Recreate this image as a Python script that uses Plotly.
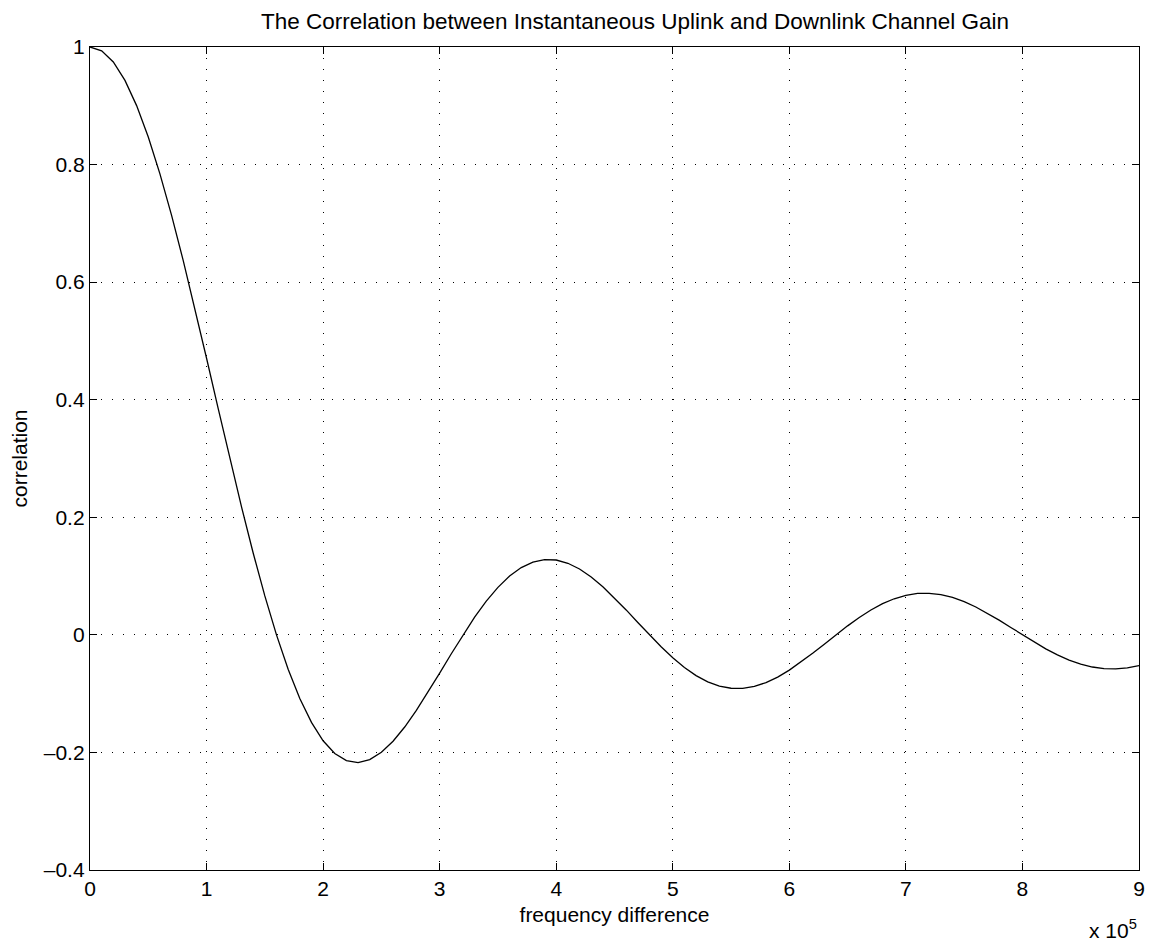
import plotly.graph_objects as go

# frequency difference samples (Hz), 1e4 spacing
freq_hz = [i * 1e4 for i in range(91)]

# correlation values
correlation = [
    1.0000, 0.9936, 0.9745, 0.9432, 0.9003, 0.8469, 0.7842, 0.7136, 0.6366, 0.5550,
    0.4705, 0.3850, 0.3001, 0.2177, 0.1392, 0.0662, 0.0000, -0.0584, -0.1083, -0.1489,
    -0.1801, -0.2017, -0.2139, -0.2172, -0.2122, -0.1998, -0.1810, -0.1568, -0.1286, -0.0976,
    -0.0650, -0.0321, 0.0000, 0.0301, 0.0573, 0.0808, 0.1000, 0.1145, 0.1238, 0.1281,
    0.1273, 0.1218, 0.1120, 0.0985, 0.0818, 0.0629, 0.0424, 0.0211, 0.0000, -0.0203,
    -0.0390, -0.0555, -0.0693, -0.0799, -0.0871, -0.0908, -0.0909, -0.0876, -0.0811, -0.0718,
    -0.0600, -0.0464, -0.0314, -0.0158, 0.0000, 0.0153, 0.0295, 0.0422, 0.0530, 0.0614,
    0.0672, 0.0704, 0.0707, 0.0684, 0.0636, 0.0565, 0.0474, 0.0367, 0.0250, 0.0126,
    0.0000, -0.0123, -0.0238, -0.0341, -0.0429, -0.0498, -0.0547, -0.0574, -0.0579, -0.0561,
    -0.0523,
]

x_tick_vals = [i * 1e5 for i in range(10)]
x_tick_text = [str(i) for i in range(10)]
y_tick_vals = [-0.4, -0.2, 0, 0.2, 0.4, 0.6, 0.8, 1.0]
y_tick_text = ["\u20130.4", "\u20130.2", "0", "0.2", "0.4", "0.6", "0.8", "1"]

FONT = "Liberation Sans, Arial, Helvetica, sans-serif"
FS = 21

fig = go.Figure()
fig.add_trace(go.Scatter(
    x=freq_hz, y=correlation, mode="lines",
    line=dict(color="black", width=1.3),
    showlegend=False,
))

axis_common = dict(
    showline=True, linecolor="black", linewidth=1.3, mirror="ticks",
    ticks="inside", ticklen=7, tickwidth=1, tickcolor="black",
    showgrid=True, gridcolor="black", gridwidth=1, griddash="1px,10px",
    zeroline=False,
    tickfont=dict(family=FONT, size=FS, color="black"),
)

fig.update_xaxes(
    range=[0, 9e5], tickvals=x_tick_vals, ticktext=x_tick_text,
    title=dict(text="frequency difference", font=dict(family=FONT, size=FS, color="black"), standoff=7),
    **axis_common,
)
fig.update_yaxes(
    range=[-0.4, 1.0], tickvals=y_tick_vals, ticktext=y_tick_text,
    title=dict(text="correlation", font=dict(family=FONT, size=FS, color="black"), standoff=10),
    **axis_common,
)

fig.add_annotation(
    text="x 10<sup>5</sup>", xref="paper", yref="paper", x=1.0, y=0, xanchor="right", yanchor="top",
    yshift=-44, showarrow=False, font=dict(family=FONT, size=FS, color="black"),
)

fig.update_layout(
    width=1145, height=939,
    margin=dict(l=82, r=14, t=39, b=77, autoexpand=False),
    paper_bgcolor="white", plot_bgcolor="white",
    title=dict(text="The Correlation between Instantaneous Uplink and Downlink Channel Gain",
               x=0.5196, xanchor="center", xref="paper", y=1 - 13 / 939, yanchor="middle",
               font=dict(family=FONT, size=22.5, color="black")),
    font=dict(family=FONT, size=FS, color="black"),
)

fig.write_html("out.html")
